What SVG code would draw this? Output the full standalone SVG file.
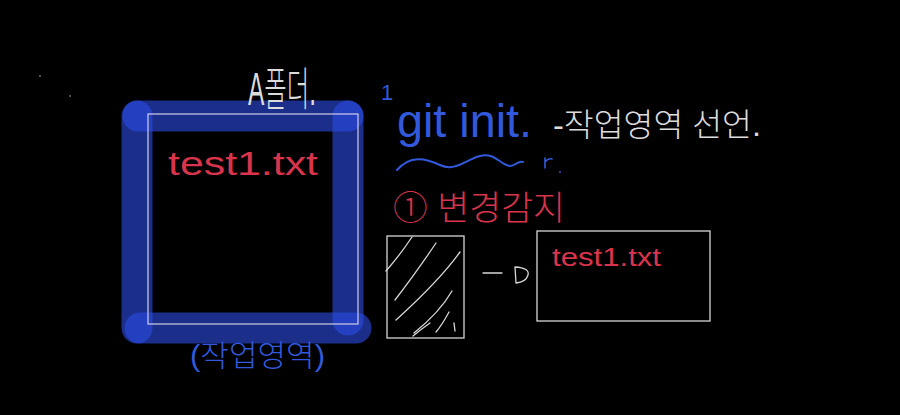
<svg xmlns="http://www.w3.org/2000/svg" width="900" height="415" viewBox="0 0 900 415">
<style>
.hand{font-family:"Liberation Sans","Noto Sans CJK KR",sans-serif;font-weight:300}
.w{fill:#dcdcdc}
.r{fill:#d9344c}
.b{fill:#3259db}
.line{fill:none;stroke:#d6d6d6;stroke-width:1.3;stroke-linecap:round}
.bar{fill:none;stroke:rgb(43,77,230);stroke-opacity:0.6;stroke-width:31;stroke-linecap:round}
</style>
<rect width="900" height="415" fill="#000"/>
<circle cx="40" cy="76" r="0.9" fill="#777"/>
<circle cx="70" cy="96" r="0.9" fill="#777"/>
<g id="folder">
<line class="bar" x1="138" y1="116" x2="348" y2="116"/>
<line class="bar" x1="137" y1="116" x2="137" y2="328"/>
<line class="bar" x1="348" y1="116" x2="348" y2="320"/>
<line class="bar" x1="140" y1="328" x2="356" y2="328"/>
<rect x="148" y="114" width="210" height="210" fill="none" stroke="#cfcfe8" stroke-width="1.2"/>
<text class="hand r" x="168" y="175" font-size="34" textLength="150" lengthAdjust="spacingAndGlyphs">test1.txt</text>
</g>
<g id="folder-label">
<text class="hand w" x="248" y="105" font-size="46" textLength="68" lengthAdjust="spacingAndGlyphs">A폴더.</text>
</g>
<g id="work-label">
<text class="hand b" x="190" y="366" font-size="30" textLength="135" lengthAdjust="spacingAndGlyphs">(작업영역)</text>
</g>
<g id="step1">
<text class="hand b" x="381" y="100" font-size="22">1</text>
<text class="hand b" x="397" y="137" font-size="46" textLength="135" lengthAdjust="spacingAndGlyphs">git init.</text>
<text class="hand w" x="553" y="136" font-size="32" textLength="208" lengthAdjust="spacingAndGlyphs">-작업영역 선언.</text>
</g>
<g id="wave">
<path d="M397 170 C410 155 425 158 440 165 C455 172 465 160 480 156 C495 152 500 165 510 166 C516 166 518 160 523 162" fill="none" stroke="#3259db" stroke-width="2" stroke-linecap="round"/>
<path d="M545 168 L545 158 M545 162 Q548 158 552 159" fill="none" stroke="#3259db" stroke-width="1.6" stroke-linecap="round"/>
<circle cx="560" cy="172" r="0.9" fill="#3259db"/>
</g>
<g id="step2">
<text class="hand r" x="393" y="220" font-size="34" textLength="172" lengthAdjust="spacingAndGlyphs">① 변경감지</text>
</g>
<g id="before">
<rect x="387" y="236" width="77" height="102" fill="none" stroke="#d6d6d6" stroke-width="1.3"/>
<path class="line" d="M412 237 Q400 255 386 271 M436 243 Q418 270 395 300 M460 252 Q440 280 396 320 M452 291 Q440 312 414 333 M449 312 Q442 325 436 332 M454 323 L455 331 M430 323 Q420 330 413 336"/>
</g>
<g id="connectors">
<line class="line" x1="483" y1="273" x2="502" y2="273"/>
<path class="line" d="M515 267 L516 283 M515 267 Q530 268 528 275 Q526 282 516 283"/>
</g>
<g id="after">
<rect x="537" y="231" width="173" height="90" fill="none" stroke="#d6d6d6" stroke-width="1.3"/>
<text class="hand r" x="552" y="266" font-size="26" textLength="109" lengthAdjust="spacingAndGlyphs">test1.txt</text>
</g>
</svg>
